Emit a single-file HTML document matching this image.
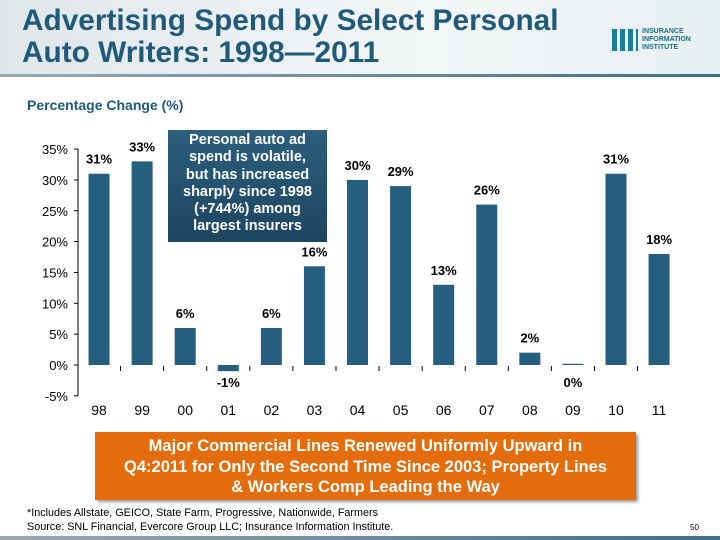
<!DOCTYPE html>
<html><head><meta charset="utf-8"><style>
body{margin:0;width:720px;height:540px;overflow:hidden;background:#fff;font-family:"Liberation Sans",Arial,sans-serif;position:relative}
.abs{position:absolute}
</style></head><body>
<div class="abs" style="left:0;top:0;width:720px;height:75px;background:linear-gradient(90deg,#dfe6ea,#f4f7f8 60%,#e6eef1)"></div>
<div class="abs" style="left:0;top:74px;width:720px;height:3px;background:linear-gradient(90deg,#9aa9b0,#3f6f86)"></div>
<div class="abs" style="left:22px;top:5px;font-size:29.8px;font-weight:bold;color:#1f5a7a;line-height:32px">Advertising Spend by Select Personal<br>Auto Writers:  1998—2011</div>
<div class="abs" style="left:612px;top:28px;display:flex;align-items:center">
<div style="width:26px;height:22px;background:repeating-linear-gradient(90deg,#1d7f96 0 5px,transparent 5px 8px)"></div>
<div style="margin-left:4px;font-size:7px;font-weight:bold;color:#1d6f86;line-height:8px">INSURANCE<br>INFORMATION<br>INSTITUTE</div></div>
<div class="abs" style="left:27px;top:97px;font-size:14px;font-weight:bold;color:#1f5a7a">Percentage Change (%)</div>
<svg class="abs" style="left:0;top:0" width="720" height="540" id="chart"></svg>
<div class="abs" style="left:168px;top:130px;width:159px;height:112px;background:linear-gradient(#2c5f7d,#1d4560);color:#fff;font-size:14.5px;font-weight:bold;text-align:center;line-height:17.3px;padding:2px 4px 0;box-sizing:border-box">Personal auto ad<br>spend is volatile,<br>but has increased<br>sharply since 1998<br>(+744%) among<br>largest insurers</div>
<div class="abs" style="left:95px;top:432px;width:541px;height:68px;background:#e46c0a;box-shadow:2px 2px 3px #999;color:#fff;font-size:16.5px;font-weight:bold;text-align:center;line-height:20.5px;padding:4px 4px 0;box-sizing:border-box">Major Commercial Lines Renewed Uniformly Upward in<br>Q4:2011 for Only the Second Time Since 2003; Property Lines<br>&amp; Workers Comp Leading the Way</div>
<div class="abs" style="left:27px;top:506px;font-size:10.8px;line-height:14px;color:#000">*Includes  Allstate, GEICO, State Farm, Progressive, Nationwide, Farmers<br>Source: SNL Financial, Evercore Group LLC; Insurance Information Institute.</div>
<div class="abs" style="left:690px;top:523px;font-size:8px">50</div>
<div class="abs" style="left:0;top:536px;width:720px;height:4px;background:linear-gradient(90deg,#9aa9b0,#3f6f86)"></div>
<script>
const categories=["98","99","00","01","02","03","04","05","06","07","08","09","10","11"];
const values=[31,33,6,-1,6,16,30,29,13,26,2,0.2,31,18];
const labels=["31%","33%","6%","-1%","6%","16%","30%","29%","13%","26%","2%","0%","31%","18%"];
const ticks=[35,30,25,20,15,10,5,0,-5];
const svg=document.getElementById('chart');const NS='http://www.w3.org/2000/svg';
const y0=365,ppu=6.17,x0=77.5,step=43.08,bw=21;
const Y=v=>y0-v*ppu, X=i=>x0+step*(i+0.5);
function el(t,a,txt){const e=document.createElementNS(NS,t);for(const k in a)e.setAttribute(k,a[k]);if(txt!=null)e.textContent=txt;svg.appendChild(e);return e;}
let ax=el('line',{x1:78,x2:78,y1:Y(35),y2:Y(-5),stroke:'#000','stroke-width':1});

ticks.forEach(t=>{let l=el('line',{x1:74,x2:78,y1:Y(t),y2:Y(t),stroke:'#000'});

let s=el('text',{x:68,y:Y(t)+5,'text-anchor':'end','font-size':13,fill:'#000'},t+'%');
});
categories.forEach((c,i)=>{const v=values[i];
if(i>0){let tk=el('line',{x1:x0+step*i,x2:x0+step*i,y1:y0+1,y2:y0+6,stroke:'#000'});}
let r=el('rect',{x:X(i)-bw/2,y:Math.min(Y(v),Y(0)),width:bw,height:Math.max(Math.abs(Y(v)-Y(0)),1),fill:'#255e7e'});

const ly=v>=1?Y(v)-10:Y(0)+22;
let t=el('text',{x:X(i),y:ly,'text-anchor':'middle','font-size':13,'font-weight':'bold',fill:'#000'},labels[i]);

let xl=el('text',{x:X(i),y:415,'text-anchor':'middle','font-size':14,fill:'#000'},c);
});
</script>
</body></html>
